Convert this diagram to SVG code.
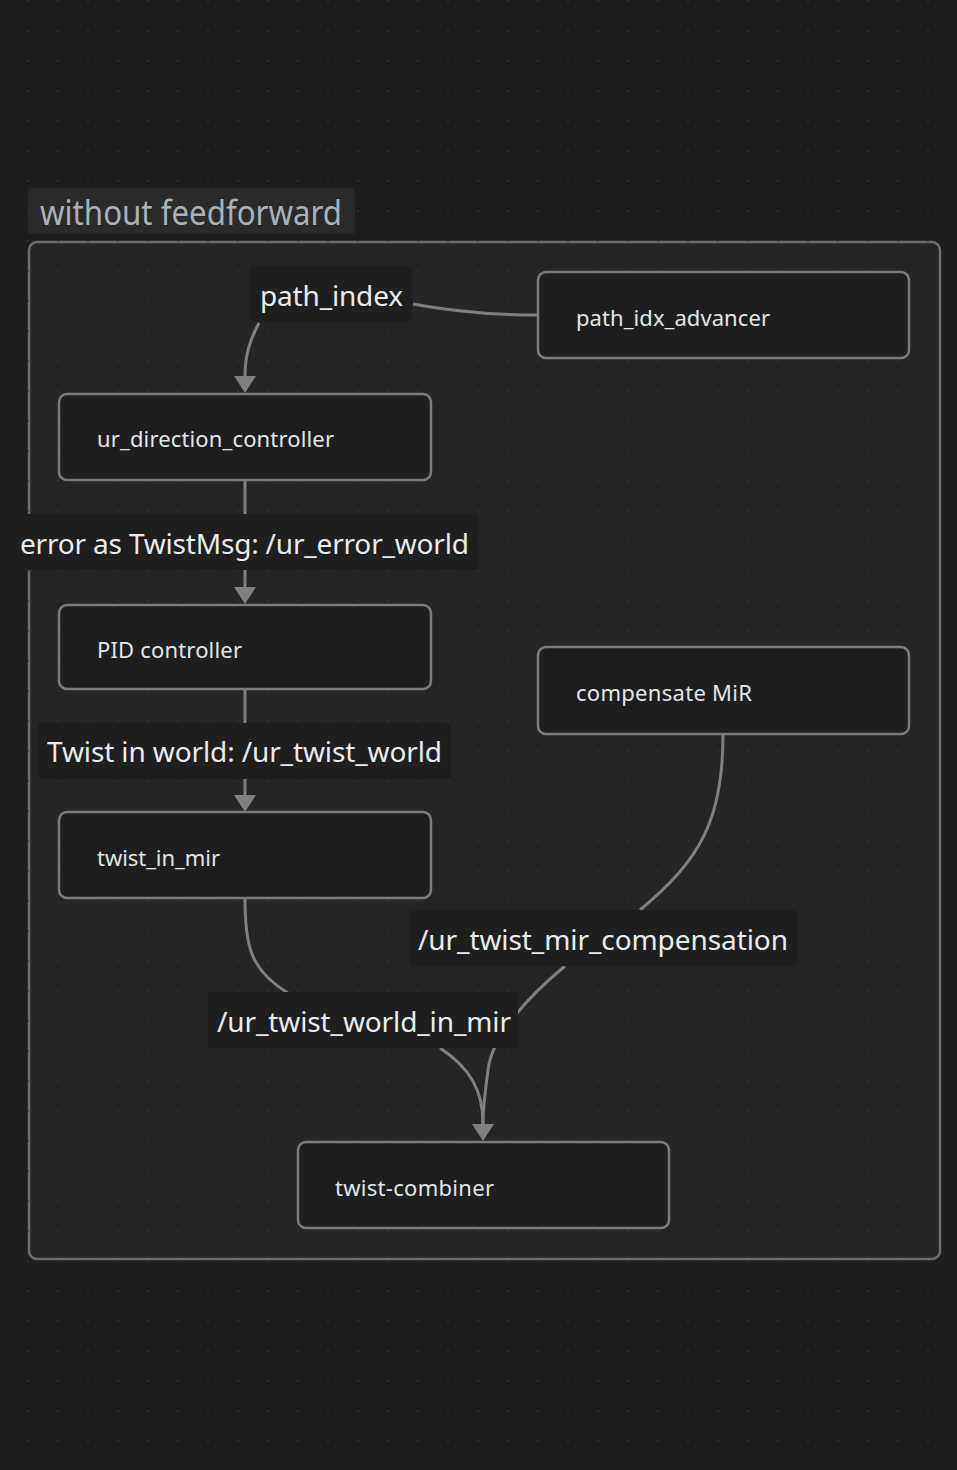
<svg xmlns="http://www.w3.org/2000/svg" width="957" height="1470" viewBox="0 0 957 1470">
<style>
.node rect{fill:#1e1e1e;stroke:#7c7c7c;stroke-width:2.5}
.node text{font-family:"Noto Sans","Open Sans",sans-serif;font-size:22px;fill:#e2e6ea}
.lbl rect{fill:#1f1f1f}
.lbl text{font-family:"Noto Sans","Open Sans",sans-serif;font-size:28px;fill:#e8ecef}
.edge{fill:none;stroke:#808080;stroke-width:3}
</style>
<defs>
<pattern id="dots" x="13" y="-14" width="30" height="30" patternUnits="userSpaceOnUse"><circle cx="15" cy="15" r="1" fill="#333333"/></pattern>
<marker id="arr" markerUnits="userSpaceOnUse" viewBox="0 0 17 22" refX="0" refY="11" markerWidth="17" markerHeight="22" orient="auto"><path d="M0,0 L17,11 L0,22 z" fill="#808080"/></marker>
</defs>
<rect x="0" y="0" width="957" height="1470" fill="#1e1e1e"/>
<g id="cluster">
<rect x="29" y="242" width="911" height="1017" rx="8" fill="#252525" stroke="#6e6e6e" stroke-width="2.5"/>
</g>
<rect x="0" y="0" width="957" height="1470" fill="url(#dots)"/>
<g id="cluster-title">
<rect x="28" y="188" width="327" height="46" rx="4" fill="#2a2a2a"/>
<text x="40" y="225" font-family="Noto Sans, Open Sans, sans-serif" font-size="34" fill="#a9b1b9" textLength="302" lengthAdjust="spacingAndGlyphs">without feedforward</text>
</g>
<g id="edges">
<path class="edge" d="M538,315 C495,315 455,312 413,304"/>
<path class="edge" d="M259,323 C250,340 245,355 245,376" marker-end="url(#arr)"/>
<path class="edge" d="M245,481 L245,514"/>
<path class="edge" d="M245,570 L245,587" marker-end="url(#arr)"/>
<path class="edge" d="M245,689 L245,723"/>
<path class="edge" d="M245,779 L245,795" marker-end="url(#arr)"/>
<path class="edge" d="M245,899 C245,945 250,970 288,993"/>
<path class="edge" d="M440,1048 C470,1068 483,1090 483,1124" marker-end="url(#arr)"/>
<path class="edge" d="M723,735 C723,820 700,860 640,910"/>
<path class="edge" d="M565,966 C530,995 492,1035 488,1070 C485,1095 483,1105 483,1124"/>
</g>
<g id="label-path_index" class="lbl"><rect x="250" y="266" width="162" height="56" rx="4"/><text x="260" y="306" textLength="143">path_index</text></g>
<g id="label-error" class="lbl"><rect x="10" y="514" width="468" height="56" rx="4"/><text x="20" y="554" textLength="449">error as TwistMsg: /ur_error_world</text></g>
<g id="label-twist_world" class="lbl"><rect x="38" y="723" width="413" height="56" rx="4"/><text x="47" y="762" textLength="395">Twist in world: /ur_twist_world</text></g>
<g id="label-compensation" class="lbl"><rect x="410" y="910" width="387" height="56" rx="4"/><text x="418" y="950" textLength="370">/ur_twist_mir_compensation</text></g>
<g id="label-world_in_mir" class="lbl"><rect x="208" y="992" width="310" height="56" rx="4"/><text x="217" y="1032" textLength="294">/ur_twist_world_in_mir</text></g>
<g id="node-path_idx_advancer" class="node"><rect x="538" y="272" width="371" height="86" rx="8"/><text x="576" y="326" textLength="194">path_idx_advancer</text></g>
<g id="node-ur_direction_controller" class="node"><rect x="59" y="394" width="372" height="86" rx="8"/><text x="97" y="447" textLength="237">ur_direction_controller</text></g>
<g id="node-pid" class="node"><rect x="59" y="605" width="372" height="84" rx="8"/><text x="97" y="658" textLength="145">PID controller</text></g>
<g id="node-compensate_mir" class="node"><rect x="538" y="647" width="371" height="87" rx="8"/><text x="576" y="701" textLength="176">compensate MiR</text></g>
<g id="node-twist_in_mir" class="node"><rect x="59" y="812" width="372" height="86" rx="8"/><text x="97" y="866" textLength="123">twist_in_mir</text></g>
<g id="node-twist_combiner" class="node"><rect x="298" y="1142" width="371" height="86" rx="8"/><text x="335" y="1196" textLength="159">twist-combiner</text></g>
</svg>
